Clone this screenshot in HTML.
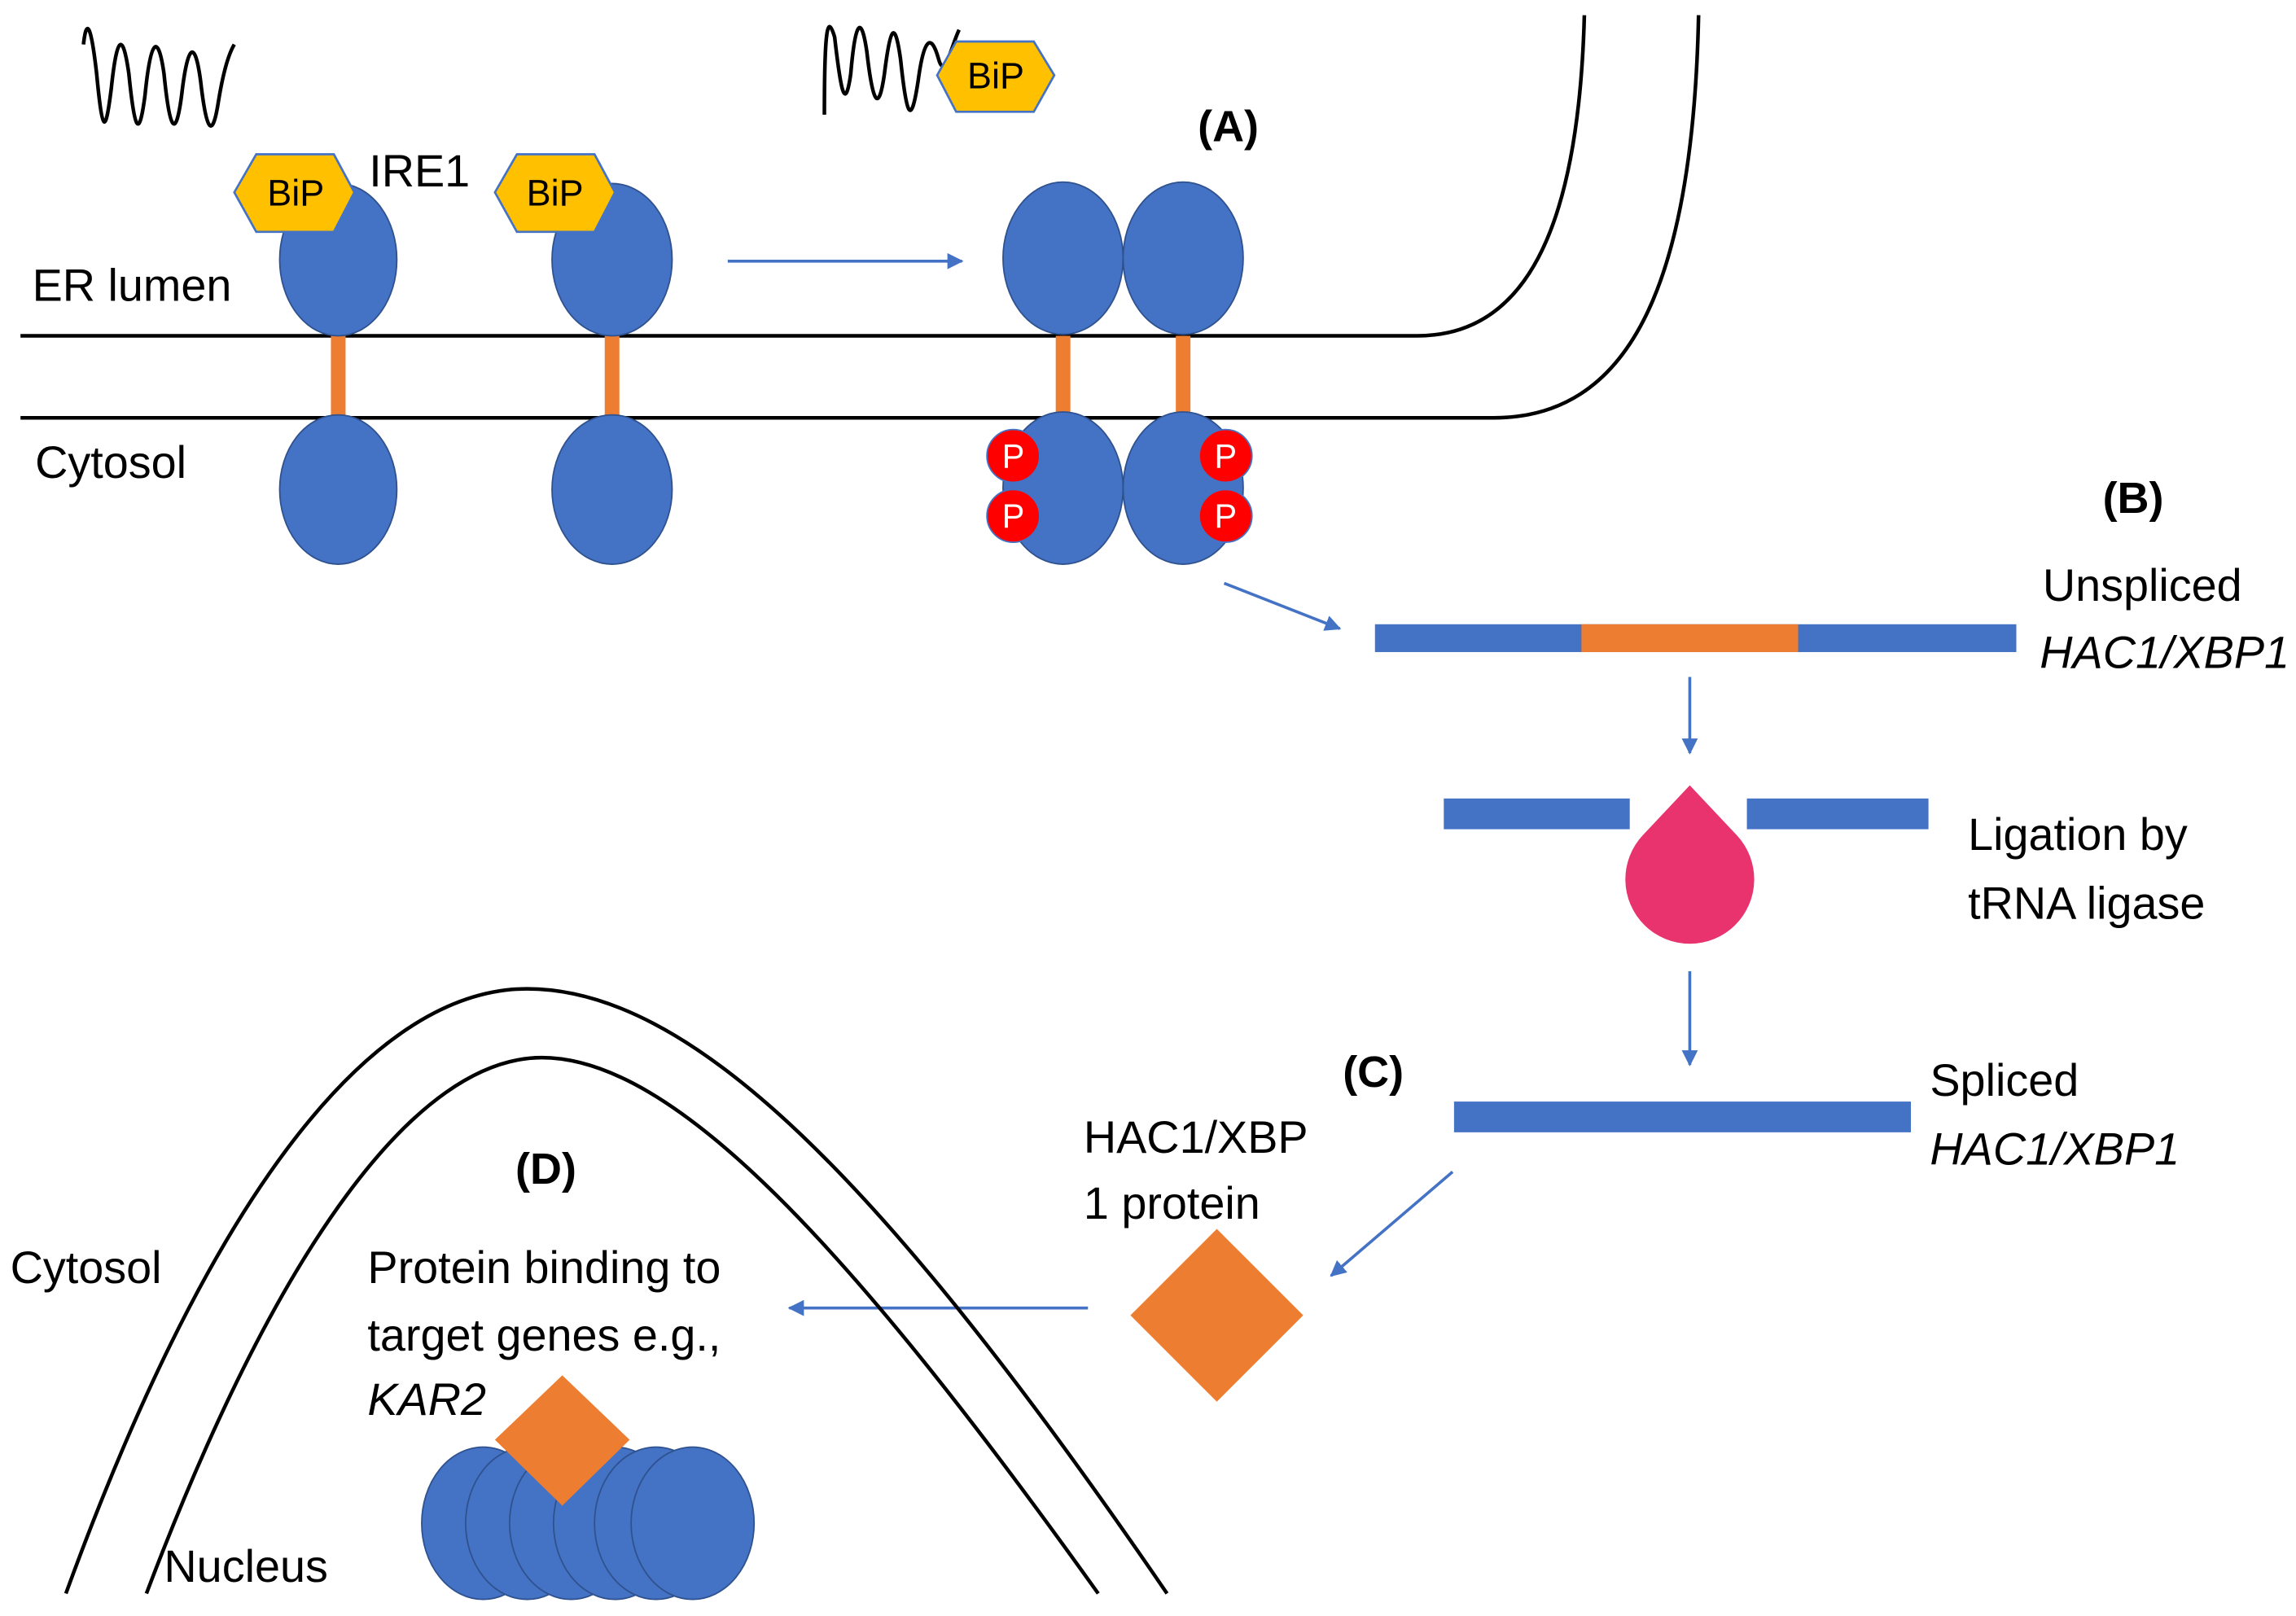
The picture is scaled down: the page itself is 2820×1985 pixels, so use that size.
<!DOCTYPE html>
<html><head><meta charset="utf-8">
<style>
html,body{margin:0;padding:0;background:#fff;}
svg{display:block;}
text{font-family:"Liberation Sans",sans-serif;fill:#000;}
</style></head>
<body>
<svg width="2820" height="1985" viewBox="0 0 1568 1103" xmlns="http://www.w3.org/2000/svg">
<defs>
<marker id="ar" markerWidth="11" markerHeight="11" refX="10" refY="5.5" orient="auto" markerUnits="userSpaceOnUse">
<path d="M0,0 L11,5.5 L0,11 Z" fill="#4472C4"/>
</marker>
</defs>
<rect width="1568" height="1103" fill="#fff"/>
<!-- waves -->
<path d="M57,30 C59,12 62,15 66,50 C70,92 72,92 76,60 C80,22 84,22 88,50 C92,90 95,95 99,65 C103,25 108,22 112,50 C116,90 120,95 124,65 C128,30 133,25 137,55 C141,90 145,95 149,70 C153,45 157,35 160,30" fill="none" stroke="#000" stroke-width="2.5"/>
<path d="M563,78 C563,20 565,8 570,25 C574,60 577,78 581,50 C584,15 588,8 592,35 C596,70 600,78 604,50 C608,18 611,12 615,40 C619,78 622,88 627,55 C631,25 636,22 641,40 C645,55 650,30 655,20" fill="none" stroke="#000" stroke-width="2.5"/>
<!-- membranes -->
<path d="M14,229 L968,229 C1040,229 1078,160 1082,10" fill="none" stroke="#000" stroke-width="2.5"/>
<path d="M14,285 L1020,285 C1110,285 1156,200 1160,10" fill="none" stroke="#000" stroke-width="2.5"/>
<!-- stalks -->
<g fill="#ED7D31">
<rect x="226" y="229" width="10" height="56"/><rect x="413" y="229" width="10" height="56"/>
<rect x="721" y="229" width="10" height="56"/><rect x="803" y="229" width="10" height="56"/>
</g>
<g fill="#4472C4" stroke="#2F528F" stroke-width="1">
<ellipse cx="231" cy="177" rx="40" ry="52"/><ellipse cx="418" cy="177" rx="41" ry="52"/>
<ellipse cx="726" cy="176" rx="41" ry="52"/><ellipse cx="808" cy="176" rx="41" ry="52"/>
<ellipse cx="231" cy="334" rx="40" ry="51"/><ellipse cx="418" cy="334" rx="41" ry="51"/>
<ellipse cx="726" cy="333" rx="41" ry="52"/><ellipse cx="808" cy="333" rx="41" ry="52"/>
</g>
<!-- BiP -->
<g fill="#FFC000" stroke="#4472C4" stroke-width="1.5">
<polygon points="160,131 175,105 228,105 242,131 228,158 175,158"/>
<polygon points="338,131 353,105 406,105 420,131 406,158 353,158"/>
<polygon points="640,51 653,28 706,28 720,51 706,76 653,76"/>
</g>
<g font-size="25" text-anchor="middle">
<text x="202" y="140">BiP</text><text x="379" y="140">BiP</text><text x="680" y="60">BiP</text>
</g>
<!-- P circles -->
<g fill="#FF0000" stroke="#4472C4" stroke-width="1">
<circle cx="692" cy="311" r="18"/><circle cx="692" cy="352" r="18"/>
<circle cx="837" cy="311" r="18"/><circle cx="837" cy="352" r="18"/>
</g>
<g font-size="23" text-anchor="middle">
<text x="692" y="319" style="fill:#fff">P</text><text x="692" y="360" style="fill:#fff">P</text>
<text x="837" y="319" style="fill:#fff">P</text><text x="837" y="360" style="fill:#fff">P</text>
</g>
<!-- arrows -->
<g stroke="#4472C4" stroke-width="2" marker-end="url(#ar)" fill="none">
<line x1="497" y1="178" x2="657" y2="178"/>
<line x1="836" y1="398" x2="915" y2="429"/>
<line x1="1154" y1="462" x2="1154" y2="514"/>
<line x1="1154" y1="663" x2="1154" y2="727"/>
<line x1="992" y1="800" x2="909" y2="871"/>
<line x1="743" y1="893" x2="539" y2="893"/>
</g>
<!-- bars -->
<rect x="939" y="426" width="438" height="19" fill="#4472C4"/>
<rect x="1080" y="426" width="148" height="19" fill="#ED7D31"/>
<rect x="986" y="545" width="127" height="21" fill="#4472C4"/>
<rect x="1193" y="545" width="124" height="21" fill="#4472C4"/>
<path d="M1154,536 L1122,570 A44,44 0 1 0 1186,570 Z" fill="#E8336E"/>
<rect x="993" y="752" width="312" height="21" fill="#4472C4"/>
<!-- nucleus -->
<path d="M45,1088 C150,800 260,675 360,675 C470,675 600,800 797,1088" fill="none" stroke="#000" stroke-width="2.5"/>
<path d="M100,1088 C190,850 285,722 370,722 C460,722 580,850 750,1088" fill="none" stroke="#000" stroke-width="2.5"/>
<polygon points="831,839 890,898 831,957 772,898" fill="#ED7D31"/>
<g fill="#4472C4" stroke="#2F528F" stroke-width="1">
<ellipse cx="330" cy="1040" rx="42" ry="52"/><ellipse cx="360" cy="1040" rx="42" ry="52"/>
<ellipse cx="390" cy="1040" rx="42" ry="52"/><ellipse cx="420" cy="1040" rx="42" ry="52"/>
<ellipse cx="448" cy="1040" rx="42" ry="52"/><ellipse cx="473" cy="1040" rx="42" ry="52"/>
</g>
<polygon points="384,939 430,983 384,1028 338,983" fill="#ED7D31"/>
<!-- text -->
<g font-size="31">
<text x="252" y="127">IRE1</text>
<text x="22" y="205">ER lumen</text>
<text x="24" y="326">Cytosol</text>
<text x="1395" y="410">Unspliced</text>
<text x="1393" y="456" font-style="italic">HAC1/XBP1</text>
<text x="1344" y="580">Ligation by</text>
<text x="1344" y="627">tRNA ligase</text>
<text x="1318" y="748">Spliced</text>
<text x="1318" y="795" font-style="italic">HAC1/XBP1</text>
<text x="740" y="787">HAC1/XBP</text>
<text x="740" y="832">1 protein</text>
<text x="7" y="876">Cytosol</text>
<text x="251" y="876">Protein binding to</text>
<text x="251" y="922">target genes e.g.,</text>
<text x="251" y="966" font-style="italic">KAR2</text>
<text x="112" y="1080">Nucleus</text>
</g>
<g font-size="30" font-weight="bold">
<text x="818" y="96">(A)</text>
<text x="1436" y="350">(B)</text>
<text x="917" y="742">(C)</text>
<text x="352" y="808">(D)</text>
</g>
</svg>
</body></html>
